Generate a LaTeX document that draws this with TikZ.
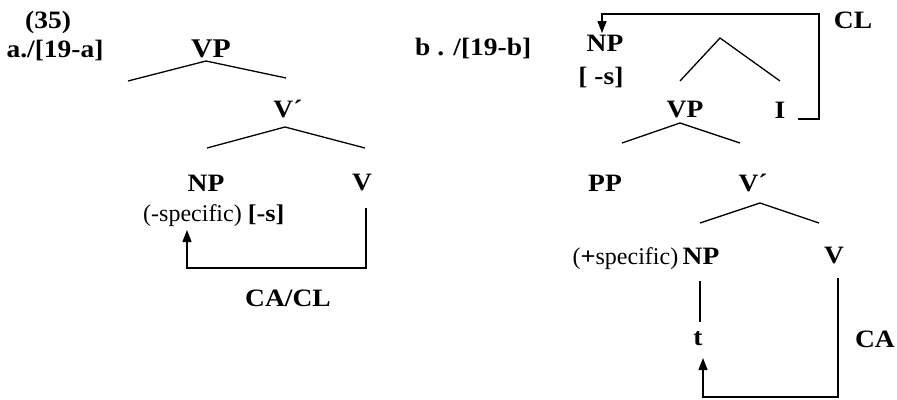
\documentclass[tikz,border=0pt]{standalone}
\usepackage{fontspec}
\setmainfont{Liberation Serif}[BoldFeatures={FakeStretch=1.1}]
\usetikzlibrary{arrows.meta}

\tikzset{
  lbl/.style={inner sep=0pt, font=\fontsize{25}{29}\selectfont\bfseries},
  feat/.style={inner sep=0pt, font=\fontsize{24}{28}\selectfont},
  branch/.style={line width=1.3pt},
  move/.style={line width=1.3pt, -{Triangle[length=12pt,width=9pt]}},
}

\begin{document}
\begin{tikzpicture}[x=1pt,y=-1pt]
\useasboundingbox (0,0) rectangle (897,399);

% tree a: branch points
\coordinate (aVP) at (206,61);
\coordinate (aVPl) at (128,81);
\coordinate (aVPr) at (286,78);
\coordinate (aVb) at (285,127);
\coordinate (aVbl) at (207,148);
\coordinate (aVbr) at (365,148);
\coordinate (aCAtop) at (366,208);
\coordinate (aCAbot) at (366,268);
\coordinate (aCAend) at (187,268);
\coordinate (aCAtip) at (187,230);

% tree b: branch points
\coordinate (bIP) at (720,38);
\coordinate (bIPl) at (680,81);
\coordinate (bIPr) at (780,81);
\coordinate (bVP) at (680,123);
\coordinate (bVPl) at (622,143);
\coordinate (bVPr) at (740,143);
\coordinate (bVb) at (760,203);
\coordinate (bVbl) at (700,223);
\coordinate (bVbr) at (819,223);
\coordinate (bCLstart) at (798,119);
\coordinate (bCLcorner) at (819,119);
\coordinate (bCLtop) at (819,14);
\coordinate (bCLleft) at (602,14);
\coordinate (bCLtip) at (602,33);
\coordinate (bNPtop) at (700,281);
\coordinate (bNPbot) at (700,322);
\coordinate (bCAtop) at (838,278);
\coordinate (bCAbot) at (838,397);
\coordinate (bCAend) at (703,397);
\coordinate (bCAtip) at (703,358);

% labels, tree a
\node[lbl] (num) at (48,22) {(35)};
\node[lbl, anchor=base] (tagA) at (55,57) {a./[19-a]};
\node[lbl, font=\fontsize{27}{30}\selectfont\bfseries] (vpA) at (211,49) {VP};
\node[lbl] (vbarA) at (288,109) {V´};
\node[lbl] (npA) at (206,183) {NP};
\node[lbl] (vA) at (362,183) {V};
\node[feat, anchor=base west] (specA) at (143,221) {(-specific) \textbf{[-s]}};
\node[lbl] (caclA) at (288,298) {CA/CL};

% labels, tree b
\node[lbl, anchor=base west] (tagB) at (415,55) {b . /[19-b]};
\node[lbl] (npB) at (605,43) {NP};
\node[lbl, anchor=base] (sB) at (601,84) {[ -s]};
\node[lbl] (clB) at (853,20) {CL};
\node[lbl] (vpB) at (685,110) {VP};
\node[lbl] (iB) at (780,110) {I};
\node[lbl] (ppB) at (605,183) {PP};
\node[lbl] (vbarB) at (753,183) {V´};
\node[lbl] (npC) at (701,256) {NP};
\node[feat, anchor=base east] (specB) at ([xshift=-4pt]npC.base west) {(\textbf{+}specific)};
\node[lbl] (vB) at (834,256) {V};
\node[lbl] (tB) at (698,339) {t};
\node[lbl, anchor=east] (caB) at (895,339) {CA};

% branches
\draw[branch] (aVPl) -- (aVP) -- (aVPr);
\draw[branch] (aVbl) -- (aVb) -- (aVbr);
\draw[branch] (bIPl) -- (bIP) -- (bIPr);
\draw[branch] (bVPl) -- (bVP) -- (bVPr);
\draw[branch] (bVbl) -- (bVb) -- (bVbr);
\draw[branch] (bNPtop) -- (bNPbot);

% movement
\draw[move] (aCAtop) -- (aCAbot) -- (aCAend) -- (aCAtip);
\draw[move] (bCLstart) -- (bCLcorner) -- (bCLtop) -- (bCLleft) -- (bCLtip);
\draw[move] (bCAtop) -- (bCAbot) -- (bCAend) -- (bCAtip);

\end{tikzpicture}
\end{document}
